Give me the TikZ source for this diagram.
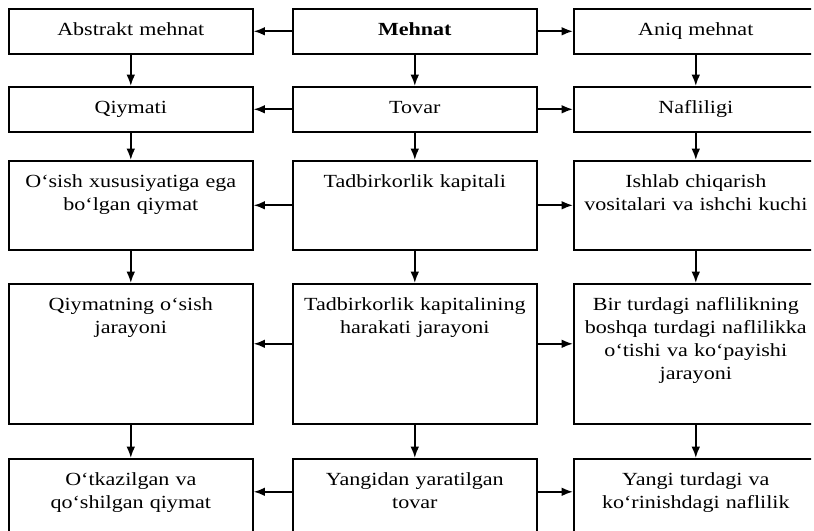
\documentclass[tikz,border=0pt]{standalone}
\usepackage{fontspec}
\setmainfont{Liberation Serif}[FakeStretch=1.19]
\usetikzlibrary{arrows.meta}

\begin{document}
\begin{tikzpicture}[x=0.75pt, y=-0.75pt,
    cell/.style={draw, line width=1.2pt, anchor=north west, inner sep=0pt,
      text width=183pt, align=center, text height=20.25pt,
      font=\fontsize{13.9}{17.25}\selectfont},
    arr/.style={-{Latex[length=8.5pt,width=6.5pt]}, line width=1.4pt}]
    \useasboundingbox (0,0) rectangle (814,531);
    \clip (0,0) rectangle (811,531);

    % Row 1
    \node[cell, text depth=13.5pt] (abs) at (8,8) {Abstrakt mehnat};
    \node[cell, text depth=13.5pt] (meh) at (292,8) {\textbf{Mehnat}};
    \node[cell, text depth=13.5pt] (aniq) at (573,8) {Aniq mehnat};

    % Row 2
    \node[cell, text depth=13.5pt] (qiy) at (8,86) {Qiymati};
    \node[cell, text depth=13.5pt] (tov) at (292,86) {Tovar};
    \node[cell, text depth=13.5pt] (naf) at (573,86) {Nafliligi};

    % Row 3
    \node[cell, text depth=46.5pt] (osish) at (8,160) {O‘sish xususiyatiga ega\\bo‘lgan qiymat};
    \node[cell, text depth=46.5pt] (kap) at (292,160) {Tadbirkorlik kapitali};
    \node[cell, text depth=46.5pt] (ishlab) at (573,160) {Ishlab chiqarish\\vositalari va ishchi kuchi};

    % Row 4
    \node[cell, text depth=84.75pt] (jar) at (8,283) {Qiymatning o‘sish\\jarayoni};
    \node[cell, text depth=84.75pt] (harakat) at (292,283) {Tadbirkorlik kapitalining\\harakati jarayoni};
    \node[cell, text depth=84.75pt] (bir) at (573,283) {Bir turdagi naflilikning\\boshqa turdagi naflilikka\\o‘tishi va ko‘payishi\\jarayoni};

    % Row 5 (runs off the page)
    \node[cell, text depth=41.25pt] (otkaz) at (8,458) {O‘tkazilgan va\\qo‘shilgan qiymat};
    \node[cell, text depth=41.25pt] (yangi) at (292,458) {Yangidan yaratilgan\\tovar};
    \node[cell, text depth=41.25pt] (tur) at (573,458) {Yangi turdagi va\\ko‘rinishdagi naflilik};

    % Arrows out of the middle column
    \draw[arr] (meh.west) -- (abs.east);
    \draw[arr] (meh.east) -- (aniq.west);
    \draw[arr] (tov.west) -- (qiy.east);
    \draw[arr] (tov.east) -- (naf.west);
    \draw[arr] (kap.west) -- (osish.east);
    \draw[arr] (kap.east) -- (ishlab.west);
    \draw[arr] ([yshift=7.5pt]harakat.west) -- ([yshift=7.5pt]jar.east);
    \draw[arr] ([yshift=7.5pt]harakat.east) -- ([yshift=7.5pt]bir.west);
    \draw[arr] ([yshift=6pt]yangi.west) -- ([yshift=6pt]otkaz.east);
    \draw[arr] ([yshift=6pt]yangi.east) -- ([yshift=6pt]tur.west);

    % Arrows down each column
    \draw[arr] (abs) -- (qiy);
    \draw[arr] (qiy) -- (osish);
    \draw[arr] (osish) -- (jar);
    \draw[arr] (jar) -- (otkaz);
    \draw[arr] (meh) -- (tov);
    \draw[arr] (tov) -- (kap);
    \draw[arr] (kap) -- (harakat);
    \draw[arr] (harakat) -- (yangi);
    \draw[arr] (aniq) -- (naf);
    \draw[arr] (naf) -- (ishlab);
    \draw[arr] (ishlab) -- (bir);
    \draw[arr] (bir) -- (tur);
\end{tikzpicture}
\end{document}
